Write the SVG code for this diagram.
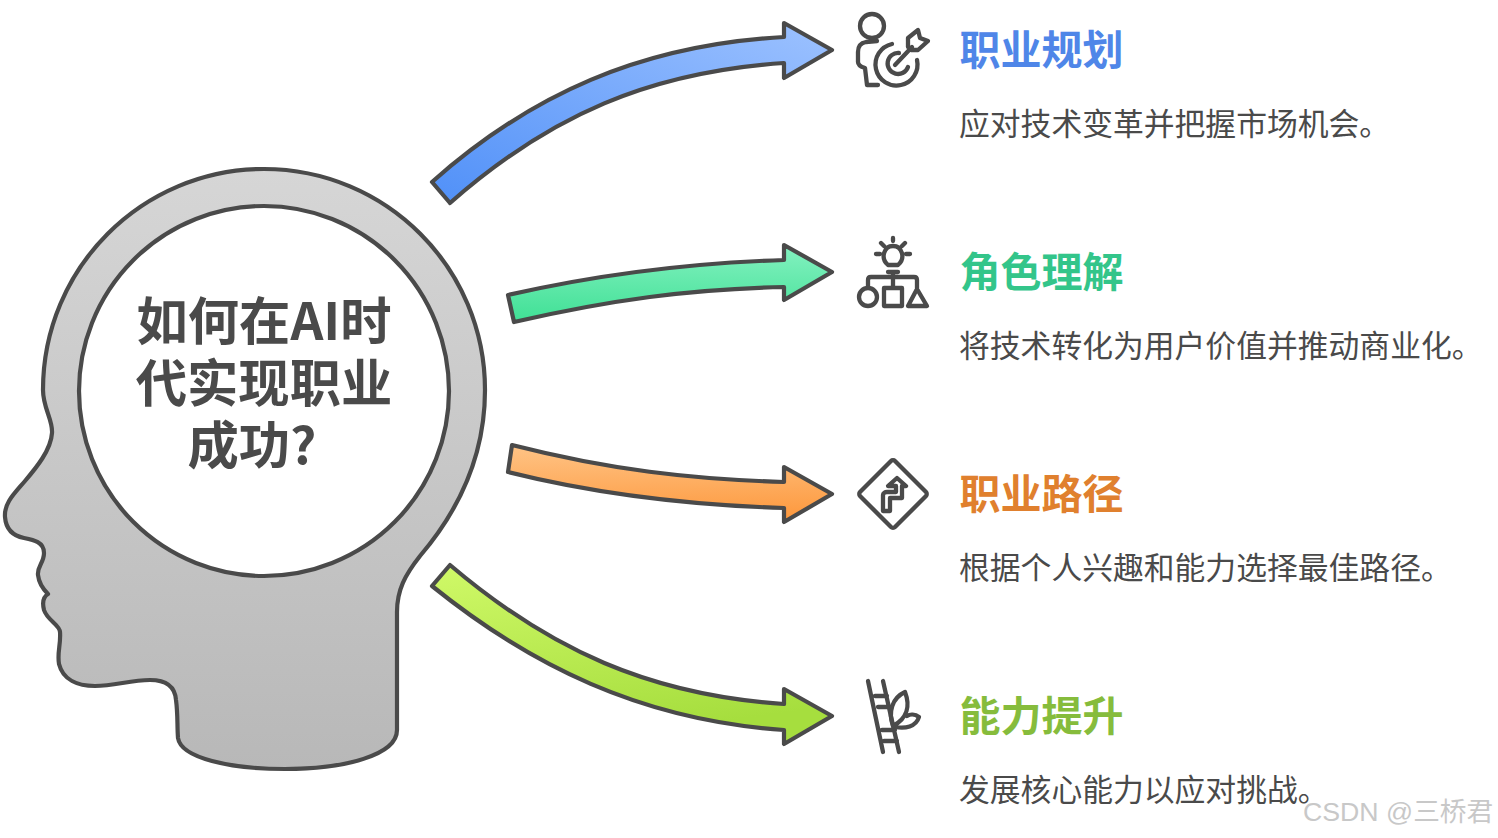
<svg xmlns="http://www.w3.org/2000/svg" width="1498" height="838" viewBox="0 0 1498 838">
<style>
.o{stroke:#4a4a4a;stroke-width:4.2;stroke-linejoin:round;stroke-linecap:round}
.i{fill:none;stroke:#4a4a4a;stroke-width:4.300;stroke-linejoin:round;stroke-linecap:round}
text{font-family:"Noto Sans CJK SC","Noto Sans",sans-serif}
.t{font-size:41px;font-weight:700}
.d{font-size:30.8px;fill:#4a4a4a}
.c{font-size:51.3px;font-weight:700;fill:#4a4a4a;text-anchor:middle}
</style>
<defs>
<linearGradient id="gh" x1="0" y1="0" x2="0" y2="1"><stop offset="0" stop-color="#d6d6d6"/><stop offset="1" stop-color="#b8b8b8"/></linearGradient>
<linearGradient id="g1" x1="0" y1="1" x2="1" y2="0"><stop offset="0" stop-color="#5090f8"/><stop offset="1" stop-color="#9dc2ff"/></linearGradient>
<linearGradient id="g2" x1="0" y1="1" x2="0.1" y2="0"><stop offset="0" stop-color="#3fe095"/><stop offset="1" stop-color="#7ff0bd"/></linearGradient>
<linearGradient id="g3" x1="0" y1="0" x2="0.1" y2="1"><stop offset="0" stop-color="#ffc486"/><stop offset="1" stop-color="#fd9a40"/></linearGradient>
<linearGradient id="g4" x1="0" y1="0" x2="0.3" y2="1"><stop offset="0" stop-color="#d0f968"/><stop offset="1" stop-color="#a6de3e"/></linearGradient>
</defs>
<g id="head">
<path class="o" fill="url(#gh)" d="M264 169C142 169 43 268 43 390C43 408 53 420 52 433C51 450 36 468 25 481C14 494 4 503 5 517C6 530 14 536 24 538C34 540 44 542 44 553C44 563 37 566 38 575C39 584 44 590 48 594C43 597 42 602 44 610C47 620 60 625 60 632C61 645 57 652 59 664C63 680 78 686 95 686C115 686 130 680 150 680C165 680 175 686 176 700C178 715 177 725 178 738C181 758 230 769 285 769C345 769 397 755 397 730L397 612C397 590 405 575 420 556C455 515 485 460 485 390C485 268 386 169 264 169Z"/>
<circle cx="264" cy="391" r="185" fill="#fff" stroke="#4a4a4a" stroke-width="4.2"/>
<text class="c"><tspan x="264" y="339.500">如何在AI时</tspan><tspan x="264" y="401.500">代实现职业</tspan><tspan x="252" y="463.500">成功?</tspan></text>
</g>
<g id="connectors">
<path class="o" fill="url(#g1)" d="M432 182C530 95 640 45 784 37L784 23L832 50L784 78L784 63C650 72 550 115 450 203Z"/>
<path class="o" fill="url(#g2)" d="M508 295C600 274 690 263 784 260L784 245L832 272L784 300L784 287C690 289 610 300 514 322Z"/>
<path class="o" fill="url(#g3)" d="M512 445C610 470 690 479 784 482L784 467L832 494L784 522L784 508C690 505 600 495 508 472Z"/>
<path class="o" fill="url(#g4)" d="M450 565C550 650 650 695 784 704L784 689L832 716L784 744L784 730C640 720 530 665 432 586Z"/>
</g>
<g id="node-1">
<circle class="i" cx="872" cy="26" r="12"/>
<path class="i" d="M877 41L866 42C860 43 858 47 858 52L858 62C858 66 862 67 865 68L867 85L878 85"/>
<path class="i" d="M917 60A21 21 0 1 1 892 44"/>
<path class="i" d="M908 67A10.500 10.500 0 1 1 899 53"/>
<path class="i" d="M895 65L912 47M908 47L908 38L918 30L920 38L928 41L918 50L911 50"/>
</g>
<g id="node-2">
<path class="i" d="M888 265C880 258 884 246 893 246C902 246 906 258 898 265ZM888 272L898 272M893 272L893 287M868 287L868 280C868 278 869 277 871 277L914 277C916 277 917 278 917 280L917 288"/>
<circle class="i" cx="868" cy="297" r="9"/>
<rect class="i" x="884" y="288" width="18" height="18"/>
<path class="i" d="M917 289L927 306L908 306Z"/>
<path class="i" d="M893 238L893 241M881 243L884 246M905 243L902 246M876 254L880 254M906 254L910 254"/>
</g>
<g id="node-3">
<path class="i" d="M891 461C892 460 894 460 895 461L926 492C927 493 927 495 926 496L895 527C894 528 892 528 891 527L860 496C859 495 859 493 860 492Z"/>
<path class="i" d="M897 478L906 486L902 486L902 498L890 498L890 511L883 511L883 495C883 493 885 492 887 492L896 492L896 486L888 486Z"/>
</g>
<g id="node-4">
<path class="i" d="M868 681L883 752M883 681L899 752M875 696L887 696M878 707L890 707M882 730L895 730M884 741L897 741"/>
<path class="i" d="M893 726C888 712 892 698 905 692C910 705 908 718 893 726ZM895 727C905 729 916 727 919 717C915 714 910 714 907 716"/>
</g>
<g id="item-1">
<text class="t" x="959.500" y="65" fill="#4f86e8">职业规划</text>
<text class="d" x="959" y="134.500">应对技术变革并把握市场机会。</text>
</g>
<g id="item-2">
<text class="t" x="959.500" y="287" fill="#33c58a">角色理解</text>
<text class="d" x="959" y="356.500">将技术转化为用户价值并推动商业化。</text>
</g>
<g id="item-3">
<text class="t" x="959.500" y="509" fill="#e0802e">职业路径</text>
<text class="d" x="959" y="578.500">根据个人兴趣和能力选择最佳路径。</text>
</g>
<g id="item-4">
<text class="t" x="959.500" y="731" fill="#86bc3c">能力提升</text>
<text class="d" x="959" y="800.500">发展核心能力以应对挑战。</text>
</g>
<text x="1303" y="821" font-size="26.700" fill="#c8c8c8" style="font-family:'Liberation Sans','Noto Sans CJK SC',sans-serif">CSDN @三桥君</text>
</svg>
